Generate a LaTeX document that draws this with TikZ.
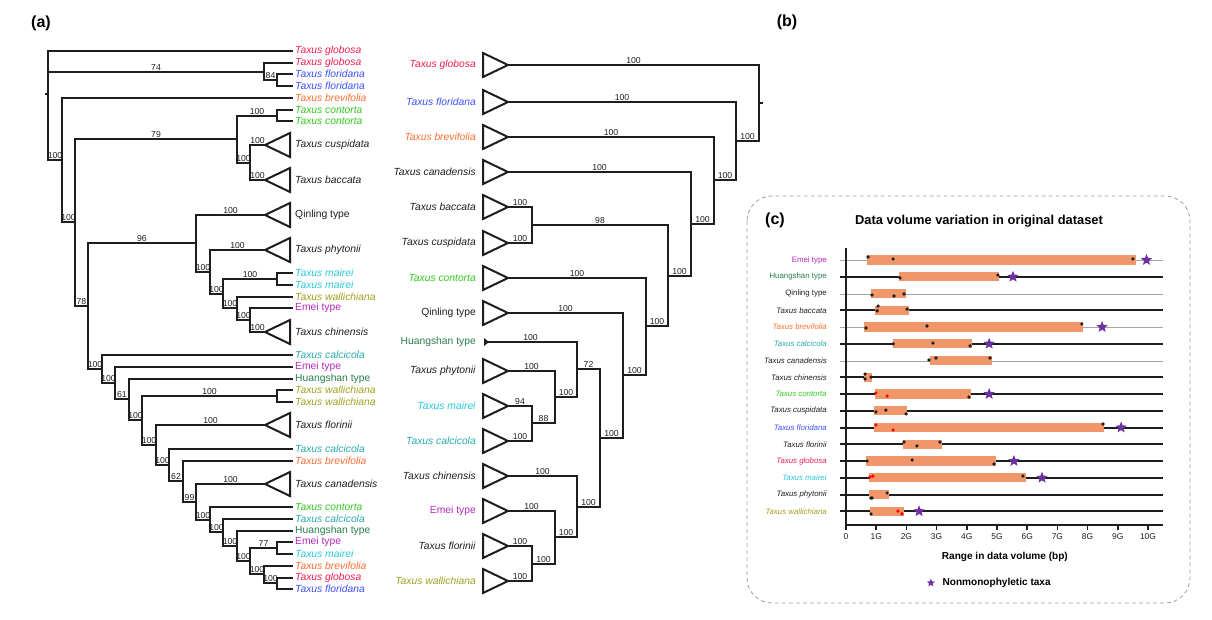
\documentclass[tikz,border=0pt]{standalone}
\usepackage{fontspec}
\setmainfont{Liberation Sans}
\usetikzlibrary{positioning, shapes.geometric}

\definecolor{cglo}{RGB}{240,30,80}
\definecolor{cflo}{RGB}{60,80,250}
\definecolor{cbre}{RGB}{250,110,50}
\definecolor{ccon}{RGB}{50,200,30}
\definecolor{cmai}{RGB}{40,200,220}
\definecolor{cwal}{RGB}{160,160,30}
\definecolor{cemei}{RGB}{180,40,190}
\definecolor{ccal}{RGB}{40,170,170}
\definecolor{chuang}{RGB}{40,125,75}
\definecolor{cblk}{RGB}{30,30,30}
\definecolor{cbar}{RGB}{240,150,105}
\definecolor{cstar}{RGB}{110,50,160}

\newcommand{\tx}[1]{\textit{Taxus #1}}

\begin{document}
\begin{tikzpicture}[x=0.3mm, y=-0.3mm,
  br/.style={draw=cblk, line width=0.6mm},
  blab/.style={font=\fontsize{7.4}{8}\selectfont, inner sep=1pt, above, pos=0.75, text=cblk},
  tipa/.style={anchor=west, inner xsep=0.6mm, inner ysep=0pt, font=\fontsize{8.8}{10}\selectfont},
  tipb/.style={anchor=east, inner xsep=0.6mm, inner ysep=0pt, font=\fontsize{8.8}{10}\selectfont},
  plab/.style={font=\fontsize{13.7}{15}\selectfont\bfseries, inner sep=0pt},
  cbox/.style={draw=gray!75, dash pattern=on 1.2mm off 0.9mm, line width=0.7pt, rounded corners=7.5mm},
  rowg/.style={draw=gray!70, line width=0.3mm},
  rowk/.style={draw=cblk, line width=0.45mm},
  axisl/.style={draw=cblk, line width=0.5mm},
  rlab/.style={anchor=east, inner sep=0pt, font=\fontsize{6.7}{8}\selectfont},
  ticklab/.style={inner sep=0pt, font=\fontsize{7.2}{8}\selectfont, text=cblk},
  nstar/.style={star, star points=5, star point ratio=2.3, fill=cstar, inner sep=0pt, minimum size=3.6mm},
  dotk/.style={fill=cblk},
  dotr/.style={fill=red}]
\useasboundingbox (0,0) rectangle (1212,620);

% --- panel labels ---
\node[plab] (pa) at (41,23) {(a)};
\node[plab] (pb) at (787,22) {(b)};
\node[plab] (pc) at (775,220) {(c)};

% --- (a) tips ---
\foreach \n/\y/\c/\t in {a1/51/cglo/{\tx{globosa}}, a2/63/cglo/{\tx{globosa}},
    a3/74/cflo/{\tx{floridana}}, a4/86/cflo/{\tx{floridana}}, a5/98/cbre/{\tx{brevifolia}},
    a6/110/ccon/{\tx{contorta}}, a7/121/ccon/{\tx{contorta}}, a12/273/cmai/{\tx{mairei}},
    a13/285/cmai/{\tx{mairei}}, a14/297/cwal/{\tx{wallichiana}}, a15/308/cemei/{Emei type},
    a17/355/ccal/{\tx{calcicola}}, a18/367/cemei/{Emei type}, a19/379/chuang/{Huangshan type},
    a20/390/cwal/{\tx{wallichiana}}, a21/402/cwal/{\tx{wallichiana}}, a23/449/ccal/{\tx{calcicola}},
    a24/461/cbre/{\tx{brevifolia}}, a26/507/ccon/{\tx{contorta}}, a27/519/ccal/{\tx{calcicola}},
    a28/531/chuang/{Huangshan type}, a29/542/cemei/{Emei type}, a30/554/cmai/{\tx{mairei}},
    a31/566/cbre/{\tx{brevifolia}}, a32/578/cglo/{\tx{globosa}}, a33/589/cflo/{\tx{floridana}}}
  \node[tipa, text=\c] (\n) at (293,\y) {\t};

% collapsed clades (a)
\foreach \n/\y/\t in {kCus/145/{\tx{cuspidata}}, kBac/180/{\tx{baccata}}, kQin/215/{Qinling type},
    kPhy/250/{\tx{phytonii}}, kChi/332/{\tx{chinensis}}, kFlo/425/{\tx{florinii}},
    kCan/484/{\tx{canadensis}}}
{
  \coordinate (\n) at (265,\y);
  \draw[br] (\n) -- ++(25,-12) -- ++(0,24) -- cycle;
  \node[tipa, text=cblk] (l\n) at (293,\y) {\t};
}

% internal nodes (a)
\foreach \n/\x/\y in {aR/48/94, n74/264/72, n84/277/80, nA/62/160, nB/75/222,
    n79/237/139, nC/277/116, nD/250/163, n78/88/306, n96/196/243,
    nE/210/272, nF/223/294, nG/277/279, nH/237/308, nI/250/320,
    nJ/102/369, nK/115/383, nL/129/399, nM/142/420, nN/277/396,
    nO/156/445, nP/169/465, nQ/183/481, nR/196/502, nS/210/520,
    nT/223/532, nU/237/546, nV/250/561, nW/277/548, nX/264/574, nY/277/583}
  \coordinate (\n) at (\x,\y);

\draw[br] (aR) -- ++(-3,0);
\foreach \p/\c in {aR/a1, aR/n74, aR/nA, n74/a2, n74/n84, n84/a3, n84/a4, nA/a5, nA/nB,
    nB/n79, nB/n78, n79/nC, n79/nD, nC/a6, nC/a7, nD/kCus, nD/kBac, n78/n96, n78/nJ,
    n96/kQin, n96/nE, nE/kPhy, nE/nF, nF/nG, nF/nH, nG/a12, nG/a13, nH/a14, nH/nI,
    nI/a15, nI/kChi, nJ/a17, nJ/nK, nK/a18, nK/nL, nL/a19, nL/nM, nM/nN, nM/nO,
    nN/a20, nN/a21, nO/kFlo, nO/nP, nP/a23, nP/nQ, nQ/a24, nQ/nR, nR/kCan, nR/nS,
    nS/a26, nS/nT, nT/a27, nT/nU, nU/a28, nU/nV, nV/nW, nV/nX, nW/a29, nW/a30,
    nX/a31, nX/nY, nY/a32, nY/a33}
  \draw[br] (\p) |- (\c);

% support values (a)
\foreach \p/\c/\l in {aR/n74/74, aR/nA/100, n74/n84/84, nA/nB/100, nB/n79/79, nB/n78/78,
    n79/nC/100, n79/nD/100, nD/kCus/100, nD/kBac/100, n78/n96/96, n78/nJ/100, n96/kQin/100,
    n96/nE/100, nE/kPhy/100, nE/nF/100, nF/nG/100, nF/nH/100, nH/nI/100, nI/kChi/100,
    nJ/nK/100, nK/nL/61, nL/nM/100, nM/nN/100, nM/nO/100, nO/kFlo/100, nO/nP/100,
    nP/nQ/62, nQ/nR/99, nR/kCan/100, nR/nS/100, nS/nT/100, nT/nU/100, nU/nV/100,
    nV/nW/77, nV/nX/100, nX/nY/100}
  \path (\p) |- node[blab] (v\p\c) {\l} (\c);

% --- (b) collapsed tips ---
\foreach \n/\y/\c/\t in {bGlo/65/cglo/{\tx{globosa}}, bFlo/102/cflo/{\tx{floridana}},
    bBre/137/cbre/{\tx{brevifolia}}, bCan/172/cblk/{\tx{canadensis}}, bBac/207/cblk/{\tx{baccata}},
    bCus/243/cblk/{\tx{cuspidata}}, bCon/278/ccon/{\tx{contorta}}, bQin/313/cblk/{Qinling type},
    bPhy/371/cblk/{\tx{phytonii}}, bMai/406/cmai/{\tx{mairei}}, bCal/441/ccal/{\tx{calcicola}},
    bChi/476/cblk/{\tx{chinensis}}, bEme/511/cemei/{Emei type}, bFlr/546/cblk/{\tx{florinii}},
    bWal/581/cwal/{\tx{wallichiana}}}
{
  \coordinate (\n) at (508,\y);
  \draw[br] (\n) -- ++(-25,-12) -- ++(0,24) -- cycle;
  \node[tipb, text=\c] (l\n) at (478,\y) {\t};
}
\coordinate (bHua) at (484,342);
\fill[cblk] (484,338) -- (489,342) -- (484,346) -- cycle;
\node[tipb, text=chuang] (lbHua) at (478,342) {Huangshan type};

% internal nodes (b)
\foreach \n/\x/\y in {mR/759/103, m9/736/141, m8/714/180, m7/691/224,
    m6/668/276, m98/532/225, m5/646/326, m4/623/375, m3/600/438,
    m72/577/369, mPh/555/397, m88/532/423, mCh/577/507, mEm/555/537,
    mFW/532/564}
  \coordinate (\n) at (\x,\y);

\draw[br] (mR) -- ++(4,0);
\foreach \p/\c/\l in {mR/bGlo/100, mR/m9/100, m9/bFlo/100, m9/m8/100, m8/bBre/100,
    m8/m7/100, m7/bCan/100, m7/m6/100, m6/m98/98, m6/m5/100, m98/bBac/100, m98/bCus/100,
    m5/bCon/100, m5/m4/100, m4/bQin/100, m4/m3/100, m3/m72/72, m3/mCh/100, m72/bHua/100,
    m72/mPh/100, mPh/bPhy/100, mPh/m88/88, m88/bMai/94, m88/bCal/100, mCh/bChi/100,
    mCh/mEm/100, mEm/bEme/100, mEm/mFW/100, mFW/bFlr/100, mFW/bWal/100}
{
  \draw[br] (\p) |- (\c);
  \path (\p) |- node[blab] (v\p\c) {\l} (\c);
}

% --- (c) data volume ---
\draw[cbox] (747,196) rectangle (1190,603);
\node[font=\fontsize{11}{12}\selectfont\bfseries, inner sep=0pt] (ct) at (979,221)
  {Data volume variation in original dataset};

\begin{scope}[shift={(846,260)}, x=9.06mm, y=-5.025mm]
\foreach \i/\s in {0/rowg, 1/rowk, 2/rowg, 3/rowk, 4/rowg, 5/rowk, 6/rowg, 7/rowk,
    8/rowk, 9/rowk, 10/rowk, 11/rowk, 12/rowk, 13/rowk, 14/rowk, 15/rowk}
  \draw[\s] (-0.2,{round(16.75*\i)/16.75}) -- (10.5,{round(16.75*\i)/16.75});

\foreach \i/\a/\b in {0/0.7/9.6, 1/1.75/5.06, 2/0.83/1.99, 3/0.96/2.09, 4/0.6/7.86,
    5/1.56/4.17, 6/2.78/4.83, 7/0.6/0.86, 8/0.96/4.14, 9/0.93/2.02, 10/0.93/8.54,
    11/1.89/3.18, 12/0.66/4.97, 13/0.76/5.96, 14/0.76/1.42, 15/0.8/1.92}
  \fill[cbar] (\a,\i-0.28) rectangle (\b,\i+0.28);

\foreach \v/\r in {0.73/-0.18, 1.56/-0.06, 9.5/-0.06, 1.79/1.07, 5.03/0.9,
    0.86/2.09, 1.59/2.15, 1.92/2.03, 1.06/2.75, 1.03/3.04, 2.02/2.93,
    0.66/4.06, 2.68/3.94, 7.81/3.82, 1.56/5.01, 2.88/4.96, 4.11/5.13,
    2.75/5.97, 2.98/5.85, 4.77/5.85, 0.63/6.81, 0.63/7.1, 0.83/6.99, 4.07/8.18,
    0.99/9.07, 1.32/8.96, 1.99/9.19, 8.51/9.79, 1.92/10.87, 2.35/11.1, 3.11/10.87,
    0.7/12, 2.19/11.94, 4.9/12.18, 5.86/12.9, 0.83/14.21, 0.86/14.21, 1.36/13.91,
    0.83/15.16}
  \fill[dotk] (\v,\r) circle (0.55mm);
\foreach \v/\r in {0.99/7.94, 1.36/8.12, 0.99/9.85, 1.56/10.15, 0.79/12.96, 0.89/12.9,
    1.72/14.99, 1.85/15.16}
  \fill[dotr] (\v,\r) circle (0.55mm);

\foreach \v/\i in {9.95/0, 5.53/1, 8.48/4, 4.74/5, 4.74/8, 9.11/10, 5.56/12, 6.49/13, 2.42/15}
  \node[nstar] (s\i) at (\v,\i) {};

% axes
\draw[axisl] (0,-0.72) -- (0,15.82) -- (10.5,15.82);
\foreach \v in {0,...,10}
  \draw[axisl] (\v,15.82) -- (\v,16.1);
\node[ticklab] (x0) at (0,16.54) {0};
\foreach \v in {1,...,10}
  \node[ticklab] (x\v) at (\v,16.54) {\v G};
\node[font=\fontsize{8.6}{10}\selectfont\bfseries, inner sep=0pt] (xt) at (5.26,17.73)
  {Range in data volume (bp)};

\foreach \i/\c/\t in {0/cemei/{Emei type}, 1/chuang/{Huangshan type}, 2/cblk/{Qinling type},
    3/cblk/{\tx{baccata}}, 4/cbre/{\tx{brevifolia}}, 5/ccal/{\tx{calcicola}},
    6/cblk/{\tx{canadensis}}, 7/cblk/{\tx{chinensis}}, 8/ccon/{\tx{contorta}},
    9/cblk/{\tx{cuspidata}}, 10/cflo/{\tx{floridana}}, 11/cblk/{\tx{florinii}},
    12/cglo/{\tx{globosa}}, 13/cmai/{\tx{mairei}}, 14/cblk/{\tx{phytonii}},
    15/cwal/{\tx{wallichiana}}}
  \node[rlab, text=\c] (r\i) at (-0.63,\i) {\t};

% legend
\node[nstar, minimum size=2.6mm] (ls) at (2.81,19.28) {};
\node[font=\fontsize{8.6}{10}\selectfont\bfseries, inner sep=0pt, right=2.6mm of ls] (lt)
  {Nonmonophyletic taxa};
\end{scope}

\end{tikzpicture}
\end{document}
